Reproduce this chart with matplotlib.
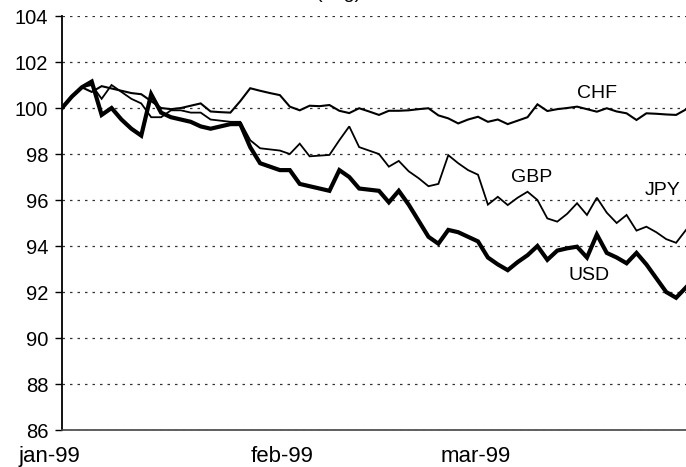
import matplotlib
matplotlib.use("Agg")
import matplotlib.pyplot as plt
from matplotlib.transforms import blended_transform_factory

plt.rcParams['font.family'] = ['Liberation Sans', 'DejaVu Sans']

# business-day index 0..63 (jan-mar 1999)
chf = [100.0, 100.5, 100.9, 100.7, 100.95, 100.85, 100.75, 100.65, 100.6, 100.3,
       100.0, 99.95, 100.0, 100.1, 100.2, 99.85, 99.82, 99.8, 100.3, 100.86,
       100.75, 100.65, 100.56, 100.06, 99.9, 100.1, 100.08, 100.13, 99.88, 99.78,
       99.99, 99.85, 99.7, 99.88, 99.88, 99.9, 99.95, 99.99, 99.68, 99.55,
       99.33, 99.5, 99.62, 99.4, 99.5, 99.3, 99.45, 99.6, 100.16, 99.87,
       99.95, 100.0, 100.06, 99.95, 99.84, 99.99, 99.85, 99.77, 99.48, 99.77,
       99.75, 99.72, 99.7, 99.94]
gbp = [100.0, 100.5, 100.9, 101.0, 100.4, 101.0, 100.7, 100.4, 100.2, 99.6,
       99.6, 99.9, 99.9, 99.8, 99.8, 99.5, 99.45, 99.4, 99.4, 98.6,
       98.25, 98.2, 98.15, 98.0, 98.45, 97.9, 97.93, 97.96, 98.6, 99.2,
       98.3, 98.15, 98.0, 97.45, 97.7, 97.25, 96.95, 96.6, 96.7, 97.95,
       97.6, 97.3, 97.1, 95.8, 96.14, 95.78, 96.1, 96.36, 96.0, 95.2,
       95.06, 95.4, 95.86, 95.35, 96.1, 95.45, 95.0, 95.35, 94.67, 94.84,
       94.6, 94.3, 94.14, 94.7]
usd = [100.0, 100.5, 100.9, 101.15, 99.7, 100.0, 99.5, 99.1, 98.8, 100.6,
       99.8, 99.6, 99.5, 99.4, 99.2, 99.1, 99.2, 99.3, 99.3, 98.3,
       97.6, 97.45, 97.3, 97.3, 96.7, 96.6, 96.5, 96.4, 97.3, 97.0,
       96.5, 96.45, 96.4, 95.9, 96.4, 95.8, 95.1, 94.4, 94.1, 94.7,
       94.6, 94.4, 94.2, 93.5, 93.2, 92.95, 93.3, 93.6, 94.0, 93.4,
       93.8, 93.9, 93.97, 93.5, 94.5, 93.7, 93.5, 93.25, 93.7, 93.2,
       92.6, 92.0, 91.75, 92.2]

y_ticks = [86, 88, 90, 92, 94, 96, 98, 100, 102, 104]
month_labels = ['jan-99', 'feb-99', 'mar-99']
month_pos = [-1.3, 22.2, 41.8]
series_labels = ['CHF', 'GBP', 'JPY', 'USD']
label_pos = [(54.0, 100.61), (47.4, 96.96), (60.6, 96.43), (53.2, 92.7)]

fig = plt.figure(figsize=(6.86, 4.67), dpi=100)
ax = fig.add_axes([0.0904, 0.0792, 0.9096, 0.8865])

x = list(range(len(chf)))
ax.plot(x, chf, color='black', lw=1.5, solid_joinstyle='miter')
ax.plot(x, gbp, color='black', lw=1.3, solid_joinstyle='miter')
ax.plot(x, usd, color='black', lw=3.0, solid_joinstyle='miter')

ax.set_xlim(0, 63)
ax.set_ylim(86, 104)
ax.set_yticks(y_ticks)
ax.set_yticklabels([str(t) for t in y_ticks], fontsize=14.5)
ax.set_xticks([])
for t in y_ticks:
    ax.axhline(t, color='#333333', lw=0.9, ls=(0, (2, 4)), zorder=0)

for s in ['top', 'right']:
    ax.spines[s].set_visible(False)
ax.spines['left'].set_linewidth(1.3)
ax.spines['bottom'].set_linewidth(1.2)
ax.spines['bottom'].set_color('#444444')
ax.tick_params(axis='y', length=5, width=1, pad=5, direction='out')

tr = blended_transform_factory(ax.transData, ax.transAxes)
for lab, p in zip(month_labels, month_pos):
    ax.text(p, -0.063, lab, transform=tr, ha='center', va='center',
            fontsize=16, clip_on=False)

for lab, (px, py) in zip(series_labels, label_pos):
    ax.text(px, py, lab, ha='center', va='center', fontsize=14)

fig.text(339 / 686, 1 + 1.5 / 467, '(dag)', ha='center', va='baseline', fontsize=14)

fig.savefig('out.png', dpi=100)
